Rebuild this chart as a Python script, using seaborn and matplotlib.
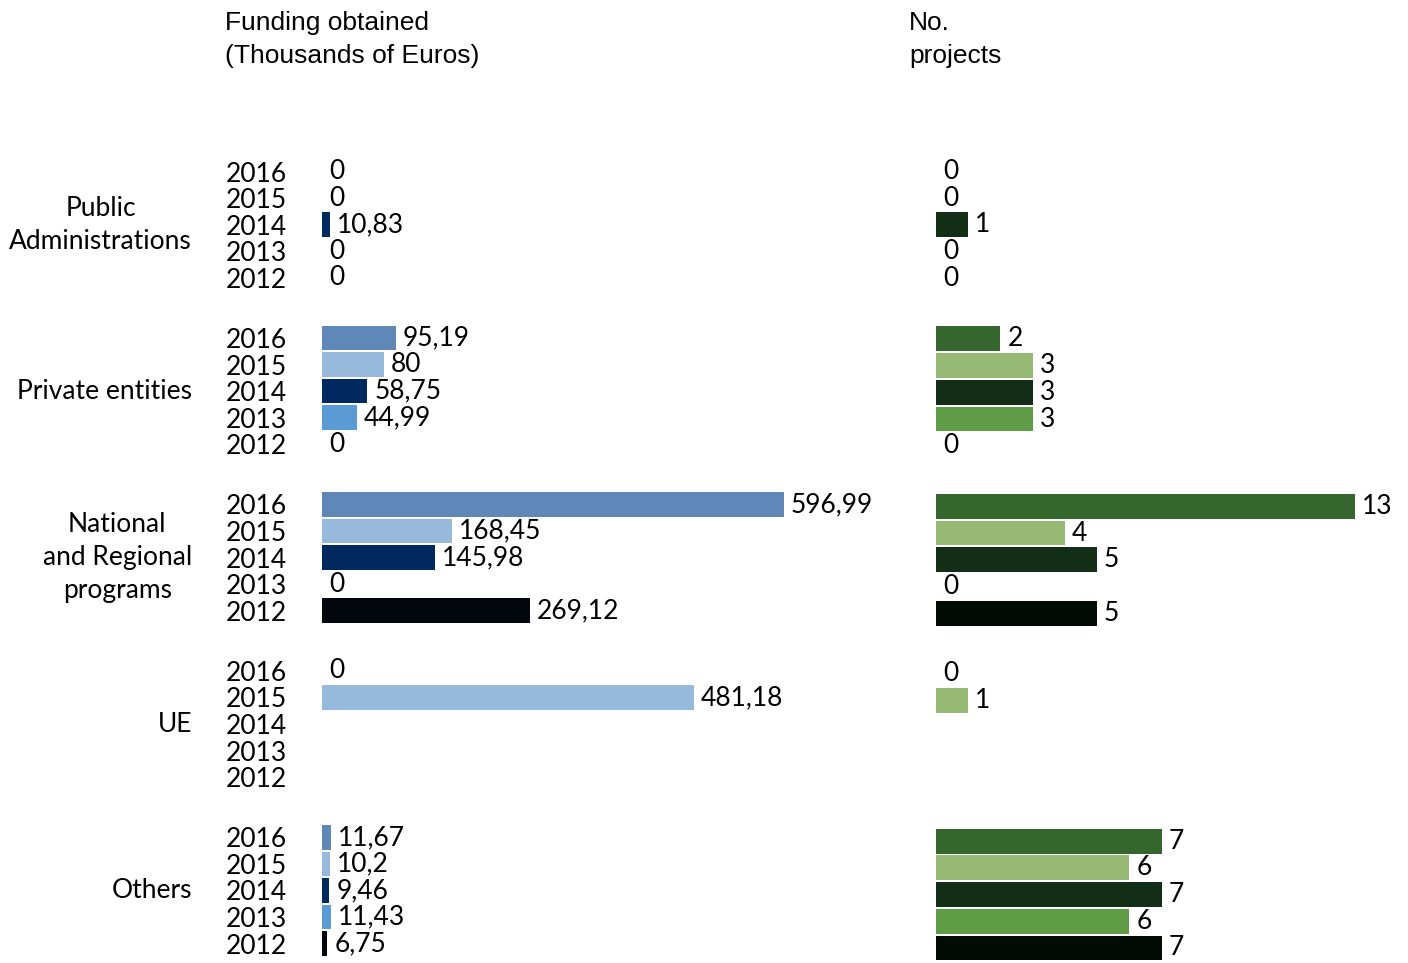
import numpy as np
import pandas as pd
import matplotlib
matplotlib.use("Agg")
import matplotlib.pyplot as plt
import matplotlib.transforms as mtransforms
import seaborn as sns

# ---- data -------------------------------------------------------------
sources = ["Public\nAdministrations", "Private entities",
           "National\nand Regional\nprograms", "UE", "Others"]
years = ["2016", "2015", "2014", "2013", "2012"]

nan = np.nan
# funding obtained, thousands of euros (rows follow `years`)
funding_public = [0, 0, 10.83, 0, 0]
funding_private = [95.19, 80, 58.75, 44.99, 0]
funding_national = [596.99, 168.45, 145.98, 0, 269.12]
funding_ue = [0, 481.18, nan, nan, nan]
funding_others = [11.67, 10.2, 9.46, 11.43, 6.75]

# number of projects
projects_public = [0, 0, 1, 0, 0]
projects_private = [2, 3, 3, 3, 0]
projects_national = [13, 4, 5, 0, 5]
projects_ue = [0, 1, nan, nan, nan]
projects_others = [7, 6, 7, 6, 7]

funding = [funding_public, funding_private, funding_national, funding_ue, funding_others]
projects = [projects_public, projects_private, projects_national, projects_ue, projects_others]

blue_palette = {"2016": "#5f87b8", "2015": "#96b9dc", "2014": "#002a5f",
                "2013": "#5b9bd5", "2012": "#02060d"}
green_palette = {"2016": "#35662e", "2015": "#96ba74", "2014": "#132e16",
                 "2013": "#5e9c46", "2012": "#020c04"}

GROUP_STEP = 6.27  # rows per source block, including the gap

rows = []
for g, src in enumerate(sources):
    for i, yr in enumerate(years):
        rows.append({"source": src, "year": yr, "pos": g * GROUP_STEP + i,
                     "funding": funding[g][i], "projects": projects[g][i]})
df = pd.DataFrame(rows)

# ---- figure -----------------------------------------------------------
W, H = 1408, 963
sns.set_theme(style="white")
plt.rcParams["font.family"] = ["Lato", "DejaVu Sans"]

fig = plt.figure(figsize=(W / 100, H / 100), dpi=100)


def px_axes(x0, x1, y_top, y_bot):
    return fig.add_axes([x0 / W, 1 - y_bot / H, (x1 - x0) / W, (y_bot - y_top) / H])


ax_f = px_axes(322, 879, 131.7, 962.7)
ax_p = px_axes(936, 1387, 131.45, 962.1)


def fmt(v):
    return f"{v:g}".replace(".", ",")


VAL_SIZE = 19

for ax, col, pal, xmax, ylim in [
    (ax_f, "funding", blue_palette, 720, (29.8, -1.5)),
    (ax_p, "projects", green_palette, 14, (29.61, -1.5)),
]:
    sub = df.dropna(subset=[col])
    sns.barplot(data=sub, x=col, y="pos", hue="year", hue_order=years,
                palette=pal, saturation=1, orient="h", native_scale=True,
                dodge=False, width=0.93, linewidth=0, legend=False, ax=ax)
    for cont in ax.containers:
        ax.bar_label(cont, labels=[fmt(v) for v in cont.datavalues],
                     padding=5, fontsize=VAL_SIZE, color="black")
    ax.set_xlim(0, xmax)
    ax.set_ylim(*ylim)
    ax.set_xlabel("")
    ax.set_ylabel("")
    ax.set_xticks([])
    for s in ax.spines.values():
        s.set_visible(False)
    ax.patch.set_alpha(0)

# year labels beside the funding bars
ax_f.set_yticks(df["pos"], labels=df["year"])
ax_f.tick_params(axis="y", length=0, pad=25, labelsize=VAL_SIZE, labelcolor="black")
ax_p.set_yticks([])

# source names, centred on each block of five years
trans = mtransforms.blended_transform_factory(fig.transFigure, ax_f.transData)
for g, src in enumerate(sources):
    ax_f.text(192 / W, g * GROUP_STEP + 2, src, transform=trans, ha="right",
              va="center", multialignment="center", fontsize=VAL_SIZE,
              linespacing=1.4, color="black")

# column headers
hdr = dict(fontsize=19, color="black", family=["Liberation Sans", "DejaVu Sans"],
           va="center", ha="left")
fig.text(225 / W, 1 - 23 / H, "Funding obtained", **hdr)
fig.text(225 / W, 1 - 56 / H, "(Thousands of Euros)", **hdr)
fig.text(909 / W, 1 - 23 / H, "No.", **hdr)
fig.text(909 / W, 1 - 56 / H, "projects", **hdr)

fig.savefig("out.png", dpi=100, facecolor="white")
